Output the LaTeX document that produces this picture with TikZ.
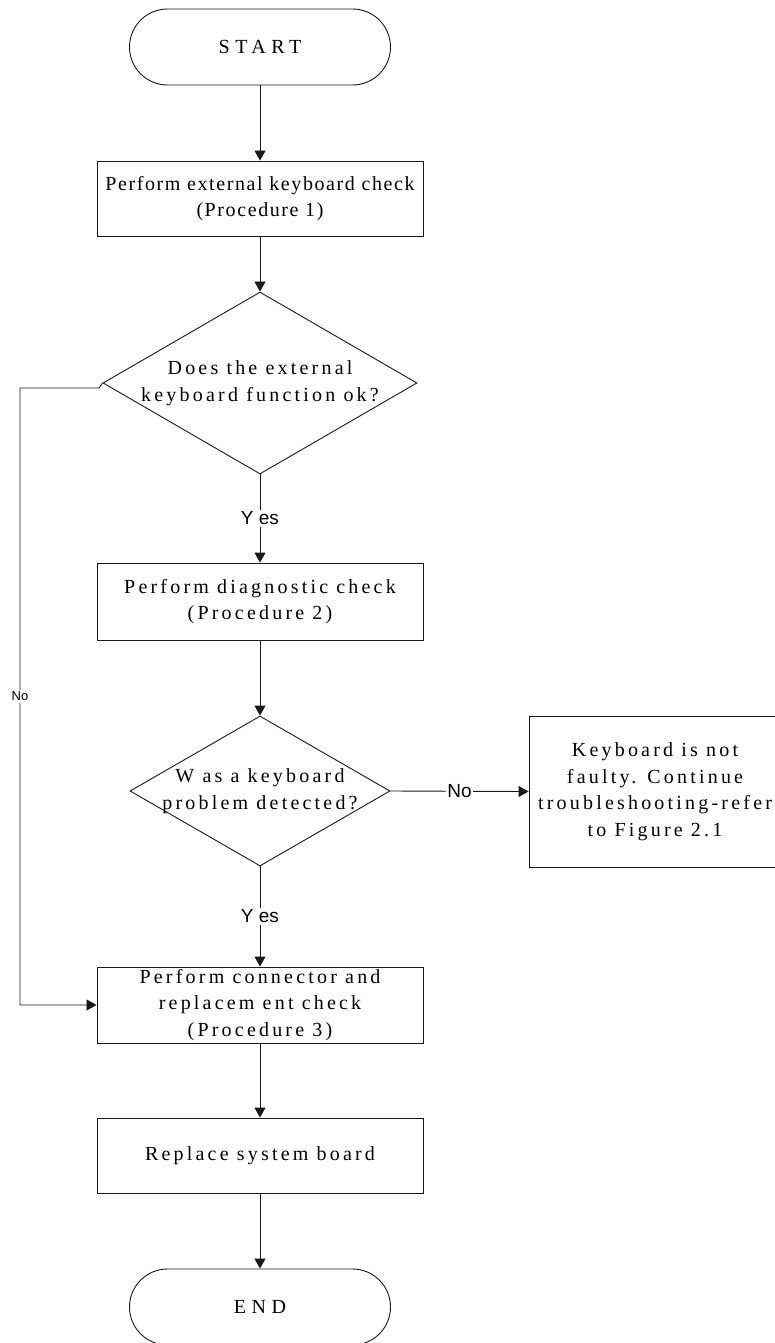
\documentclass[tikz,border=0pt]{standalone}
\usepackage{fontspec}
\setmainfont{Liberation Serif}[LetterSpace=16]
\newfontfamily\tightserif{Liberation Serif}[LetterSpace=8]
\newfontfamily\wideserif{Liberation Serif}[LetterSpace=28]
\newfontfamily\tagfont{Liberation Sans}
\usetikzlibrary{arrows.meta,shapes.geometric,positioning}

\tikzset{
  boxtext/.style={font=\fontsize{20bp}{26.5bp}\selectfont, align=center},
  terminal/.style={draw=black!90, line width=0.9bp, rounded corners=38bp,
    minimum width=261bp, minimum height=76bp,
    font=\wideserif\fontsize{20bp}{26.5bp}\selectfont},
  process/.style={draw=black!90, line width=0.9bp, minimum width=326bp,
    inner sep=0pt, boxtext},
  decision/.style={draw=black!90, line width=0.9bp, diamond, inner sep=0pt},
  dlabel/.style={boxtext, inner sep=0pt},
  flow/.style={draw=black!90, line width=0.9bp},
  arrowline/.style={flow, -{Triangle[length=10bp,width=11bp]}},
  tag/.style={fill=white, inner sep=1.5bp, font=\tagfont\fontsize{19bp}{22bp}\selectfont},
  smalltag/.style={fill=white, inner sep=1.5bp, font=\tagfont\fontsize{13bp}{16bp}\selectfont}
}

\begin{document}
\begin{tikzpicture}[x=1bp,y=-1bp]
  \useasboundingbox (0,0) rectangle (774,1343);

  % Start and end
  \node[terminal] (start) at (260,47) {START};
  \node[terminal] (end) at (260,1307) {END};

  % Process boxes
  \node[process, minimum height=75bp] (box1) at (260,198.5)
    {\tightserif Perform external keyboard check\\\tightserif(Procedure 1)};
  \node[process, minimum height=77bp] (box2) at (260,601.5)
    {Perform diagnostic check\\(Procedure 2)};
  \node[process, minimum height=76bp] (box3) at (260,1005)
    {Perform connector and\\replacem ent check\\(Procedure 3)};
  \node[process, minimum height=75bp] (box4) at (260,1155.5)
    {Replace system board};
  \node[process, minimum width=252bp, minimum height=151bp] (fault) at (655,791.5)
    {Keyboard is not\\faulty. Continue\\troubleshooting-refer\\to Figure 2.1};

  % Decisions
  \node[decision, minimum width=314bp, minimum height=182bp,
    label={[dlabel]center:Does the external\\keyboard function ok?}] (dia1) at (260,383) {};
  \node[decision, minimum width=260bp, minimum height=150bp,
    label={[dlabel]center:W as a keyboard\\problem detected?}] (dia2) at (260,791) {};

  % Straight arrows
  \foreach \a/\b in {start/box1, box1/dia1, box2/dia2, box3/box4, box4/end}
    \draw[arrowline] (\a) -- (\b);

  % Yes branches
  \draw[arrowline] (dia1.south) -- node[tag] {Y es} (box2.north);
  \draw[arrowline] (dia2.south) -- node[tag] {Y es} (box3.north);

  % No branches
  \draw[arrowline] (dia2.east) -- node[tag] {No} (fault.west);
  \coordinate (nobend) at (99,388);
  \coordinate (noleft) at (20,388);
  \draw[arrowline] (dia1.west) -- (nobend) -- (noleft)
    |- node[smalltag, pos=0.25] {No} (box3.west);
\end{tikzpicture}
\end{document}
